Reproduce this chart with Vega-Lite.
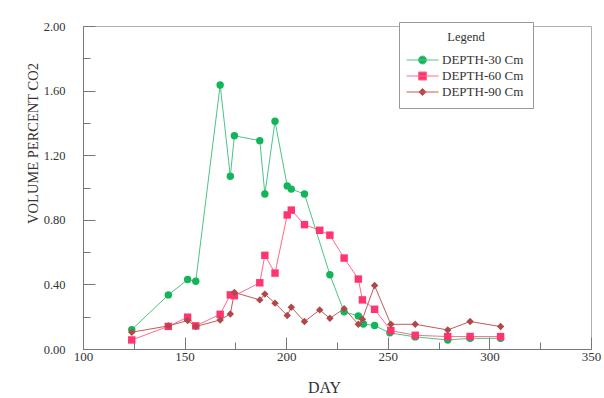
{
  "$schema": "https://vega.github.io/schema/vega-lite/v6.json",
  "width": 508,
  "height": 323,
  "autosize": {"type": "none"},
  "padding": {"left": 83, "top": 26, "right": 13, "bottom": 49},
  "background": "white",
  "config": {
    "view": {"stroke": "#b0b0b0", "strokeWidth": 1},
    "font": "Liberation Serif",
    "axis": {"labelFont": "Liberation Serif", "titleFont": "Liberation Serif"},
    "legend": {"labelFont": "Liberation Serif", "titleFont": "Liberation Serif"}
  },
  "data": {
    "values": [
      {"series": "DEPTH-30 Cm", "day": 124, "value": 0.12},
      {"series": "DEPTH-30 Cm", "day": 142, "value": 0.335},
      {"series": "DEPTH-30 Cm", "day": 151.5, "value": 0.43},
      {"series": "DEPTH-30 Cm", "day": 155.5, "value": 0.42},
      {"series": "DEPTH-30 Cm", "day": 167.5, "value": 1.635},
      {"series": "DEPTH-30 Cm", "day": 172.5, "value": 1.07},
      {"series": "DEPTH-30 Cm", "day": 174.5, "value": 1.32},
      {"series": "DEPTH-30 Cm", "day": 187, "value": 1.29},
      {"series": "DEPTH-30 Cm", "day": 189.5, "value": 0.96},
      {"series": "DEPTH-30 Cm", "day": 194.5, "value": 1.41},
      {"series": "DEPTH-30 Cm", "day": 200.5, "value": 1.01},
      {"series": "DEPTH-30 Cm", "day": 202.5, "value": 0.99},
      {"series": "DEPTH-30 Cm", "day": 209, "value": 0.96},
      {"series": "DEPTH-30 Cm", "day": 221.5, "value": 0.46},
      {"series": "DEPTH-30 Cm", "day": 228.5, "value": 0.23},
      {"series": "DEPTH-30 Cm", "day": 235.5, "value": 0.205},
      {"series": "DEPTH-30 Cm", "day": 238, "value": 0.155},
      {"series": "DEPTH-30 Cm", "day": 243.5, "value": 0.145},
      {"series": "DEPTH-30 Cm", "day": 251, "value": 0.1},
      {"series": "DEPTH-30 Cm", "day": 263.5, "value": 0.075},
      {"series": "DEPTH-30 Cm", "day": 279.5, "value": 0.056},
      {"series": "DEPTH-30 Cm", "day": 290.5, "value": 0.066},
      {"series": "DEPTH-30 Cm", "day": 305.5, "value": 0.066},
      {"series": "DEPTH-60 Cm", "day": 124, "value": 0.056},
      {"series": "DEPTH-60 Cm", "day": 142, "value": 0.14},
      {"series": "DEPTH-60 Cm", "day": 151.5, "value": 0.197},
      {"series": "DEPTH-60 Cm", "day": 155.5, "value": 0.143},
      {"series": "DEPTH-60 Cm", "day": 167.5, "value": 0.215},
      {"series": "DEPTH-60 Cm", "day": 172.5, "value": 0.335},
      {"series": "DEPTH-60 Cm", "day": 174.5, "value": 0.33},
      {"series": "DEPTH-60 Cm", "day": 187, "value": 0.41},
      {"series": "DEPTH-60 Cm", "day": 189.5, "value": 0.58},
      {"series": "DEPTH-60 Cm", "day": 194.5, "value": 0.47},
      {"series": "DEPTH-60 Cm", "day": 200.5, "value": 0.83},
      {"series": "DEPTH-60 Cm", "day": 202.5, "value": 0.86},
      {"series": "DEPTH-60 Cm", "day": 209, "value": 0.77},
      {"series": "DEPTH-60 Cm", "day": 216.5, "value": 0.735},
      {"series": "DEPTH-60 Cm", "day": 221.5, "value": 0.705},
      {"series": "DEPTH-60 Cm", "day": 228.5, "value": 0.563},
      {"series": "DEPTH-60 Cm", "day": 235.5, "value": 0.433},
      {"series": "DEPTH-60 Cm", "day": 237.5, "value": 0.304},
      {"series": "DEPTH-60 Cm", "day": 243.5, "value": 0.246},
      {"series": "DEPTH-60 Cm", "day": 251.5, "value": 0.114},
      {"series": "DEPTH-60 Cm", "day": 263.5, "value": 0.085},
      {"series": "DEPTH-60 Cm", "day": 279.5, "value": 0.077},
      {"series": "DEPTH-60 Cm", "day": 290.5, "value": 0.077},
      {"series": "DEPTH-60 Cm", "day": 305.5, "value": 0.077},
      {"series": "DEPTH-90 Cm", "day": 124, "value": 0.104},
      {"series": "DEPTH-90 Cm", "day": 142, "value": 0.143},
      {"series": "DEPTH-90 Cm", "day": 151.5, "value": 0.176},
      {"series": "DEPTH-90 Cm", "day": 155.5, "value": 0.139},
      {"series": "DEPTH-90 Cm", "day": 167.5, "value": 0.18},
      {"series": "DEPTH-90 Cm", "day": 172.5, "value": 0.217},
      {"series": "DEPTH-90 Cm", "day": 174.5, "value": 0.35},
      {"series": "DEPTH-90 Cm", "day": 187, "value": 0.304},
      {"series": "DEPTH-90 Cm", "day": 189.5, "value": 0.34},
      {"series": "DEPTH-90 Cm", "day": 194.5, "value": 0.284},
      {"series": "DEPTH-90 Cm", "day": 200.5, "value": 0.207},
      {"series": "DEPTH-90 Cm", "day": 202.5, "value": 0.259},
      {"series": "DEPTH-90 Cm", "day": 209, "value": 0.17},
      {"series": "DEPTH-90 Cm", "day": 216.5, "value": 0.242},
      {"series": "DEPTH-90 Cm", "day": 221.5, "value": 0.19},
      {"series": "DEPTH-90 Cm", "day": 228.5, "value": 0.25},
      {"series": "DEPTH-90 Cm", "day": 235.5, "value": 0.153},
      {"series": "DEPTH-90 Cm", "day": 237.5, "value": 0.184},
      {"series": "DEPTH-90 Cm", "day": 243.5, "value": 0.393},
      {"series": "DEPTH-90 Cm", "day": 251.5, "value": 0.153},
      {"series": "DEPTH-90 Cm", "day": 263.5, "value": 0.153},
      {"series": "DEPTH-90 Cm", "day": 279.5, "value": 0.118},
      {"series": "DEPTH-90 Cm", "day": 290.5, "value": 0.17},
      {"series": "DEPTH-90 Cm", "day": 305.5, "value": 0.139}
    ]
  },
  "resolve": {"axis": {"x": "independent", "y": "independent"}},
  "layer": [
    {
      "mark": {"type": "line", "strokeWidth": 1},
      "encoding": {
        "x": {
          "field": "day", "type": "quantitative",
          "scale": {"domain": [100, 350], "nice": false, "zero": false},
          "axis": {
            "orient": "bottom",
            "title": "DAY", "titleFont": "Liberation Serif", "titleFontSize": 16, "titleFontWeight": "normal", "titleColor": "#333",
            "titleX": 241, "titleY": 38, "titleBaseline": "middle", "titleAnchor": null, "titleAlign": "center",
            "values": [100, 150, 200, 250, 300, 350],
            "labelFont": "Liberation Serif", "labelFontSize": 13, "labelColor": "#333",
            "labelPadding": 13, "tickSize": -12, "tickColor": "#777", "domainColor": "#777",
            "grid": false, "labelFlush": false, "labelOverlap": false
          }
        },
        "y": {
          "field": "value", "type": "quantitative",
          "scale": {"domain": [0, 2], "nice": false},
          "axis": {
            "orient": "left",
            "title": "VOLUME PERCENT CO2", "titleFont": "Liberation Serif", "titleFontSize": 14.5, "titleFontWeight": "normal", "titleColor": "#333",
            "titleX": -50, "titleY": 117, "titleAngle": -90, "titleBaseline": "middle", "titleAlign": "center", "titleAnchor": null,
            "values": [0, 0.4, 0.8, 1.2, 1.6, 2.0], "format": ".2f",
            "labelFont": "Liberation Serif", "labelFontSize": 12.5, "labelColor": "#333",
            "labelPadding": 30, "tickSize": -12, "tickColor": "#777", "domainColor": "#777",
            "grid": false, "labelFlush": false, "labelOverlap": false
          }
        },
        "stroke": {
          "field": "series", "type": "nominal",
          "scale": {"range": ["#4cc486", "#ff6b8a", "#c25a5a"]},
          "legend": null
        },
        "detail": {"field": "series"}
      }
    },
    {
      "mark": {"type": "point", "filled": true, "opacity": 1, "strokeWidth": 0, "size": 55},
      "encoding": {
        "x": {
          "field": "day", "type": "quantitative",
          "axis": {
            "orient": "bottom", "title": null, "labels": false, "domain": false, "grid": false,
            "values": [125, 175, 225, 275, 325], "tickSize": -7, "tickColor": "#777"
          }
        },
        "y": {
          "field": "value", "type": "quantitative",
          "axis": {
            "orient": "left", "title": null, "labels": false, "domain": false, "grid": false,
            "values": [0.2, 0.6, 1.0, 1.4, 1.8], "tickSize": -7, "tickColor": "#777"
          }
        },
        "fill": {
          "field": "series", "type": "nominal",
          "scale": {"domain": ["DEPTH-30 Cm", "DEPTH-60 Cm", "DEPTH-90 Cm"], "range": ["#12b55a", "#ff3470", "#b04848"]},
          "legend": {
            "orient": "none", "legendX": 316, "legendY": -4,
            "title": "Legend", "titleFont": "Liberation Serif", "titleFontSize": 12.5, "titleFontWeight": "normal", "titleColor": "#333",
            "titleAnchor": "middle", "titlePadding": 8,
            "labelFont": "Liberation Serif", "labelFontSize": 13, "labelColor": "#333",
            "padding": 9, "strokeColor": "#999", "fillColor": "white",
            "symbolSize": 256, "symbolOffset": 6, "labelOffset": 11, "rowPadding": 0,
            "symbolStrokeWidth": 1,
            "encoding": {
              "symbols": {
                "shape": {"value": {"expr": "datum.value === 'DEPTH-30 Cm' ? 'M-2,0H2M0.5,0A0.5,0.5,0,1,1,-0.5,0A0.5,0.5,0,1,1,0.5,0Z' : datum.value === 'DEPTH-60 Cm' ? 'M-2,0H2M-0.5,-0.5H0.5V0.5H-0.5Z' : 'M-2,0H2M0,-0.45L0.45,0L0,0.45L-0.45,0Z'"}},
                "stroke": {"value": {"expr": "datum.value === 'DEPTH-30 Cm' ? '#4cc486' : datum.value === 'DEPTH-60 Cm' ? '#ff6b8a' : '#c25a5a'"}},
                "strokeWidth": {"value": 1}
              }
            }
          }
        },
        "shape": {
          "field": "series", "type": "nominal",
          "scale": {"range": ["circle", "square", "diamond"]},
          "legend": null
        }
      }
    }
  ]
}
